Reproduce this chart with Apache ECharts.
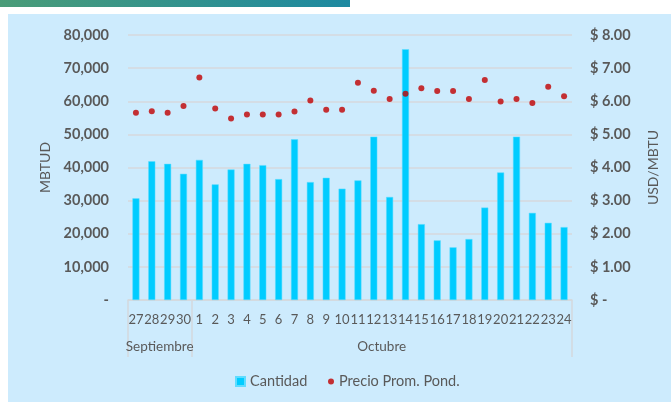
<!DOCTYPE html>
<html>
<head>
<meta charset="utf-8">
<script src="https://cdn.jsdelivr.net/npm/echarts@6/dist/echarts.min.js"></script>
<style>
  html, body { margin: 0; padding: 0; background: #fff; }
  #chart { width: 671px; height: 402px; }
</style>
</head>
<body>
<div id="chart"></div>
<script>
// dias del periodo
var dias = ['27','28','29','30','1','2','3','4','5','6','7','8','9','10','11','12',
  '13','14','15','16','17','18','19','20','21','22','23','24'];
var meses = ['Septiembre', 'Octubre'];
var diasPorMes = [4, 24];

// MBTUD
var cantidad = [30700, 41900, 41100, 38100, 42300, 34900, 39400, 41100, 40700, 36500,
  48500, 35600, 36900, 33600, 36100, 49300, 31100, 75700, 22900, 18000, 15900, 18400,
  27900, 38500, 49300, 26300, 23300, 22000];

// USD/MBTU
var precio = [5.65, 5.70, 5.65, 5.86, 6.72, 5.78, 5.48, 5.60, 5.60, 5.60, 5.69, 6.02,
  5.74, 5.74, 6.56, 6.32, 6.07, 6.23, 6.39, 6.31, 6.31, 6.07, 6.64, 5.99, 6.07, 5.95,
  6.44, 6.15];

var gris = '#595959';
var fuente = 'Lato';

// centro de cada mes y limites (en unidades de categoria)
var centros = [], limites = [0], acum = 0;
diasPorMes.forEach(function (n) {
  centros.push(acum + n / 2);
  acum += n;
  limites.push(acum);
});

var chart = echarts.init(document.getElementById('chart'));

var option = {
  backgroundColor: '#ffffff',
  textStyle: { fontFamily: fuente },
  graphic: [
    {
      type: 'rect', z: -10,
      shape: { x: 8, y: 14, width: 663, height: 388 },
      style: { fill: '#cdebfd' }
    },
    {
      type: 'rect', z: -10,
      shape: { x: 0, y: 0, width: 350, height: 7 },
      style: {
        fill: new echarts.graphic.LinearGradient(0, 0, 1, 0, [
          { offset: 0, color: '#4a9c78' },
          { offset: 1, color: '#1d89a1' }
        ])
      }
    }
  ],
  grid: { left: 128, right: 99, top: 35, bottom: 102 },
  legend: [
    {
      left: 235, top: 374, padding: 0,
      itemWidth: 9, itemHeight: 9, itemGap: 0,
      textStyle: { color: gris, fontSize: 14.5, fontFamily: fuente },
      data: [{ name: 'Cantidad', icon: 'rect' }]
    },
    {
      left: 328, top: 374, padding: 0,
      itemWidth: 6, itemHeight: 6, itemGap: 0,
      textStyle: { color: gris, fontSize: 14.5, fontFamily: fuente },
      data: [{ name: 'Precio Prom. Pond.', icon: 'circle' }]
    }
  ],
  xAxis: [
    {
      type: 'category',
      data: dias,
      axisLine: { lineStyle: { color: '#d4d9dd', width: 1.5 } },
      axisTick: { show: false },
      axisLabel: { color: gris, fontSize: 13, margin: 13, interval: 0, fontFamily: fuente }
    },
    {
      type: 'value',
      position: 'bottom',
      min: 0, max: acum,
      axisLine: { show: false },
      splitLine: { show: false },
      axisTick: {
        show: true, length: 57,
        customValues: limites,
        lineStyle: { color: '#d4d9dd', width: 1.5 }
      },
      axisLabel: {
        show: true, color: gris, fontSize: 13.5, margin: 40, fontFamily: fuente,
        customValues: centros,
        formatter: function (v) {
          var i = centros.indexOf(v);
          return i >= 0 ? meses[i] : '';
        }
      }
    }
  ],
  yAxis: [
    {
      type: 'value',
      min: 0, max: 80000, interval: 10000,
      name: 'MBTUD', nameLocation: 'middle', nameGap: 76,
      nameTextStyle: { color: gris, fontSize: 14, fontFamily: fuente },
      axisLine: { show: false },
      axisTick: { show: false },
      splitLine: { lineStyle: { color: '#d6d9dc', width: 1.5 } },
      axisLabel: {
        color: gris, fontSize: 14.5, fontWeight: 'bold', margin: 19, fontFamily: fuente,
        formatter: function (v) { return v === 0 ? '-' : v.toLocaleString('en-US'); }
      }
    },
    {
      type: 'value',
      min: 0, max: 8, interval: 1,
      name: 'USD/MBTU', nameLocation: 'middle', nameGap: 74,
      nameTextStyle: { color: gris, fontSize: 14, fontFamily: fuente },
      axisLine: { show: false },
      axisTick: { show: false },
      splitLine: { show: false },
      axisLabel: {
        color: gris, fontSize: 14.5, fontWeight: 'bold', margin: 18, fontFamily: fuente,
        formatter: function (v) { return v === 0 ? '$ -' : '$ ' + v.toFixed(2); }
      }
    }
  ],
  series: [
    {
      name: 'Cantidad',
      type: 'bar',
      data: cantidad,
      barWidth: 7,
      itemStyle: { color: '#00ccff', borderColor: '#5fdcff', borderWidth: 0.5 }
    },
    {
      name: 'Precio Prom. Pond.',
      type: 'scatter',
      yAxisIndex: 1,
      data: precio,
      symbolSize: 6,
      itemStyle: { color: '#c00000' }
    }
  ]
};

chart.setOption(option);
</script>
</body>
</html>
